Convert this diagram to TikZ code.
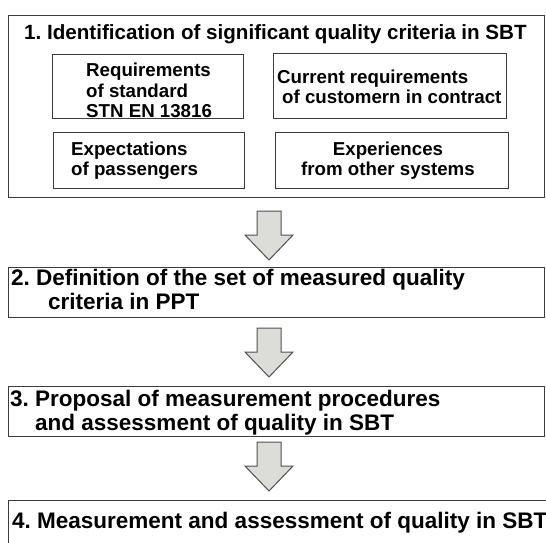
\documentclass[tikz,border=0pt]{standalone}
\usepackage{fontspec}
\setmainfont{Liberation Sans}
\usetikzlibrary{positioning}
\frenchspacing

\definecolor{framegray}{HTML}{3C3C3C}
\definecolor{arrowfill}{HTML}{DCDCD8}
\definecolor{arrowline}{HTML}{505050}

\tikzset{
  frame/.style={draw=framegray, line width=1.2pt, inner sep=0pt, anchor=north west},
  steptext/.style={inner sep=0pt, anchor=base west, align=left,
    font=\bfseries\fontsize{22.5}{24}\selectfont},
  headtext/.style={inner sep=0pt, anchor=base west,
    font=\bfseries\fontsize{20.6}{24}\selectfont},
  subtext/.style={inner sep=0pt, anchor=base west, align=left,
    font=\bfseries\fontsize{18.7}{20}\selectfont},
  flow/.style={draw=arrowline, fill=arrowfill, line width=1pt, line join=miter}
}

\begin{document}
\begin{tikzpicture}[x=1pt, y=-1pt]
\useasboundingbox (0,0) rectangle (546,543);

% stage 1 with the four sources
\node[frame, minimum width=536, minimum height=182] (crit) at (8,15) {};
\node[headtext] (critname) at (24,40) {1. Identification of significant quality criteria in SBT};
\node[frame, minimum width=191, minimum height=64] (std) at (52,54) {};
\node[subtext] (stdname) at (86,117) {Requirements\\of standard\\STN EN 13816};
\node[frame, minimum width=233, minimum height=65] (cust) at (273,53) {};
\node[subtext] (custname) at (277,103) {Current requirements\\\hspace{5pt}of customern in contract};
\node[frame, minimum width=191, minimum height=56] (pass) at (53,132) {};
\node[subtext] (passname) at (71,175) {Expectations\\of passengers};
\node[frame, minimum width=233, minimum height=56] (exp) at (275,132) {};
\node[subtext, align=center, anchor=base] (expname) at (388,175) {Experiences\\from other systems};

% stages 2 to 4
\node[frame, minimum width=536, minimum height=50] (define) at (8,267) {};
\node[steptext] (definename) at (11,309) {2. Definition of the set of measured quality\\\hspace{37pt}criteria in PPT};
\node[frame, minimum width=536, minimum height=50] (propose) at (8,386) {};
\node[steptext] (proposename) at (10,430) {3. Proposal of measurement procedures\\\hspace{25pt}and assessment of quality in SBT};
\node[frame, minimum width=545, minimum height=60] (measure) at (8,500) {};
\node[steptext] (measurename) at (12,528) {4. Measurement and assessment of quality in SBT};

% block arrows between the stages
\coordinate (arr1) at (269,211);
\coordinate (arr2) at (269,328);
\coordinate (arr3) at (269,442);
\foreach \a in {arr1,arr2,arr3}
  \draw[flow] (\a) ++(-12,0) -- ++(0,24) -- ++(-12,0) -- ++(24,25)
    -- ++(24,-25) -- ++(-12,0) -- ++(0,-24) -- cycle;
\end{tikzpicture}
\end{document}
